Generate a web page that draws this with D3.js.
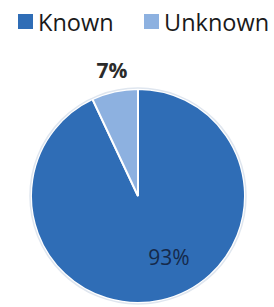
<!DOCTYPE html>
<html>
<head>
<meta charset="utf-8">
<script src="https://cdn.jsdelivr.net/npm/d3@7"></script>
<style>
  body { margin: 0; background: #fff; }
  svg { display: block; }
</style>
</head>
<body>
<div id="chart"></div>
<script>
const categories = ['Known', 'Unknown']
const values = [93, 7]
const labels = ['93%', '7%']

const width = 274
const height = 307

const svg = d3
  .select('#chart')
  .append('svg')
  .attr('width', width)
  .attr('height', height)

const colorScale = d3
  .scaleOrdinal()
  .domain(categories)
  .range(['#2f6db6', '#8db1e0'])

const data = categories.map((c, i) => ({ name: c, value: values[i], label: labels[i] }))

const pie = d3
  .pie()
  .sort(null)
  .value(d => d.value)

const radius = 107
const arc = d3.arc().innerRadius(0).outerRadius(radius)
const slices = pie(data)

const g = svg
  .append('g')
  .attr('transform', 'translate(138,196)')

g.selectAll('path')
  .data(slices)
  .enter()
  .append('path')
  .attr('d', arc)
  .attr('fill', d => colorScale(d.data.name))
  .attr('stroke', '#fff')
  .attr('stroke-width', 2)

// faint outer ring like the original
g.append('circle')
  .attr('r', radius + 1)
  .attr('fill', 'none')
  .attr('stroke', '#dfe6ef')
  .attr('stroke-width', 1.5)

// label positions: 93% sits low-right inside, 7% above the pie
const labelPos = [[31, 69], [-26, -118]]

g.selectAll('.pct')
  .data(slices)
  .enter()
  .append('text')
  .attr('class', 'pct')
  .attr('x', (d, i) => labelPos[i][0])
  .attr('y', (d, i) => labelPos[i][1])
  .attr('text-anchor', 'middle')
  .attr('font-family', 'Open Sans, sans-serif')
  .attr('font-size', 21)
  .attr('font-weight', (d, i) => (i === 1 ? 'bold' : 'normal'))
  .attr('fill', (d, i) => (i === 1 ? '#2b2b2b' : '#15294a'))
  .text(d => d.data.label)

// legend
const legendX = [18, 144]
const legend = svg
  .selectAll('.legend')
  .data(categories)
  .enter()
  .append('g')
  .attr('class', 'legend')
  .attr('transform', (d, i) => 'translate(' + legendX[i] + ',14)')

legend
  .append('rect')
  .attr('width', 15)
  .attr('height', 15)
  .attr('fill', d => colorScale(d))

legend
  .append('text')
  .attr('x', 20)
  .attr('y', 17)
  .attr('font-family', 'Open Sans, sans-serif')
  .attr('font-size', 23.5)
  .attr('fill', '#1a1a1a')
  .text(d => d)
</script>
</body>
</html>
